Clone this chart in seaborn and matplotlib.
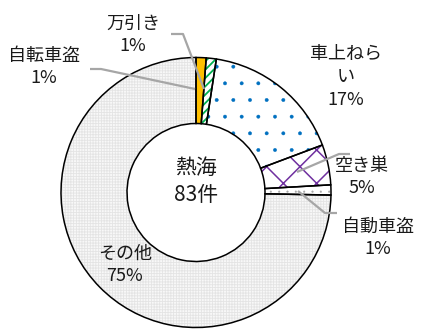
import matplotlib
matplotlib.use("Agg")
import matplotlib.pyplot as plt
import seaborn as sns

sns.set_theme(style="white")
plt.rcParams['font.family'] = ['Noto Sans CJK JP', 'DejaVu Sans']
plt.rcParams['hatch.linewidth'] = 1.0

# data
categories = ["万引き", "自転車盗", "車上ねらい", "空き巣", "自動車盗", "その他"]
counts = [1, 1, 14, 4, 1, 62]
center_title = "熱海"
total_label = "83件"

fills = ["#FFC000", "white", "white", "white", "white", "#f8f8f8"]
hatch_cols = ["#FFC000", "#00B050", "#0070C0", "#7030A0", "#A6A6A6", "#e4e4e4"]
hatches = [None, "////", ".", "x", "..", "++++++"]
hatch_lw = [1.0, 1.3, 0.3, 1.1, 0.3, 0.6]

W, H = 425, 333
fig = plt.figure(figsize=(W / 100, H / 100), dpi=100)
ax = fig.add_axes([0, 0, 1, 1])

cx, cy, R = 196, H - 192.5, 135
ring = 66

wedges, _ = ax.pie(counts, startangle=90, counterclock=False, center=(cx, cy),
                   radius=R, wedgeprops=dict(width=ring, linewidth=0))
for w, f, hc, h, lw in zip(wedges, fills, hatch_cols, hatches, hatch_lw):
    w.set_facecolor(f)
    w.set_edgecolor(hc)
    if h:
        w.set_hatch(h)
    if hasattr(w, "set_hatch_linewidth"):
        w.set_hatch_linewidth(lw)
    else:
        w._hatch_linewidth = lw

# outlines
w2, _ = ax.pie(counts, startangle=90, counterclock=False, center=(cx, cy),
               radius=R, wedgeprops=dict(width=ring, linewidth=1.1,
                                         edgecolor="black", facecolor="none"))

ax.set_xlim(0, W)
ax.set_ylim(0, H)
ax.set_aspect("equal")
ax.axis("off")

total = sum(counts)
pcts = [f"{round(100 * c / total)}%" for c in counts]
label_text = [categories[0], categories[1], "車上ねら\nい", categories[3], categories[4], categories[5]]

# label positions (image coords of text block centre)
label_pos = [(133, 35), (44, 67), (346, 77), (362, 177), (378, 238), (125, 265)]
lcol = "#1a1a1a"
for t, p, (x, y) in zip(label_text, pcts, label_pos):
    ax.text(x, H - y, f"{t}\n{p}", ha="center", va="center", fontsize=13,
            color=lcol, linespacing=1.35)

# leader lines (image coords)
leaders = [
    [(171, 34), (183, 34), (204, 89)],
    [(90, 69), (101, 69), (195, 89)],
    [(350, 154), (339, 154), (297, 172)],
    [(337, 213), (325, 213), (298, 191)],
]
for pts in leaders:
    xs = [p[0] for p in pts]
    ys = [H - p[1] for p in pts]
    ax.plot(xs, ys, color="#A6A6A6", linewidth=1.6, solid_capstyle="butt")

ax.text(cx, H - 168, center_title, ha="center", va="center", fontsize=15, color=lcol)
ax.text(cx, H - 195, total_label, ha="center", va="center", fontsize=15, color=lcol)

fig.savefig("out.png", dpi=100, facecolor="white")
